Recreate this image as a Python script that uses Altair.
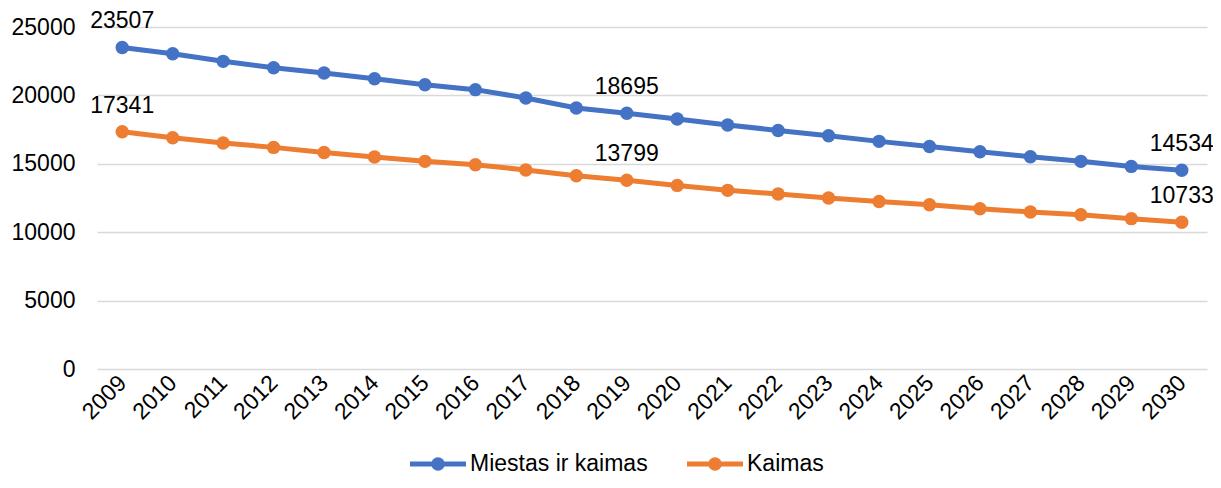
import altair as alt
import pandas as pd

years = [str(y) for y in range(2009, 2031)]
miestas_ir_kaimas = [23507, 23050, 22490, 22020, 21640, 21220, 20780, 20420, 19810, 19080, 18695,
                     18270, 17840, 17440, 17050, 16640, 16270, 15880, 15520, 15180, 14810, 14534]
kaimas = [17341, 16910, 16520, 16200, 15830, 15500, 15180, 14930, 14550, 14130, 13799,
          13420, 13060, 12790, 12500, 12250, 12010, 11720, 11480, 11280, 10990, 10733]
series_names = ["Miestas ir kaimas", "Kaimas"]
series_colors = ["#4472C4", "#ED7D31"]
label_years = ["2009", "2019", "2030"]

rows = []
for name, vals in zip(series_names, [miestas_ir_kaimas, kaimas]):
    for y, v in zip(years, vals):
        rows.append({"year": y, "value": v, "series": name,
                     "lbl": str(v) if y in label_years else ""})
df = pd.DataFrame(rows)

FONT = "Liberation Sans"
FS = 23

xenc = alt.X("year:N", sort=years, title=None,
             scale=alt.Scale(type="point", padding=0.5),
             axis=alt.Axis(labelAngle=-45, labelAlign="right", labelBaseline="middle",
                           labelPadding=10, ticks=False, domain=False, grid=False,
                           labelFont=FONT, labelFontSize=FS, labelColor="#000000"))
yenc = alt.Y("value:Q", title=None,
             scale=alt.Scale(domain=[0, 25000], nice=False),
             axis=alt.Axis(values=[0, 5000, 10000, 15000, 20000, 25000], format="d", ticks=False,
                           domain=False, labelPadding=22, labelFont=FONT, labelFontSize=FS,
                           labelColor="#000000", gridColor="#D9D9D9", gridWidth=1.5))

cscale = alt.Scale(domain=series_names, range=series_colors)

lines = alt.Chart(df).mark_line(strokeWidth=5).encode(
    x=xenc, y=yenc,
    color=alt.Color("series:N", scale=cscale, legend=None, sort=series_names),
    detail="series:N",
)

points = alt.Chart(df).mark_point(filled=True, size=180, opacity=1, strokeWidth=0).encode(
    x=xenc, y=yenc,
    color=alt.Color("series:N", scale=cscale, legend=None, sort=series_names),
)

labels = alt.Chart(df).transform_filter(alt.datum.lbl != "").mark_text(
    dy=-26, font=FONT, fontSize=FS, color="#000000").encode(
    x=xenc, y=yenc, text="lbl:N")

# legend key (bottom, centred): line with dot + label for each series
one = pd.DataFrame({"k": [0]})
key_x0 = [313, 590]
key_y = 437
legend_layers = []
for name, col, x0 in zip(series_names, series_colors, key_x0):
    legend_layers.append(alt.Chart(one).mark_rule(color=col, strokeWidth=5).encode(
        x=alt.value(x0), x2=alt.value(x0 + 56), y=alt.value(key_y)))
    legend_layers.append(alt.Chart(one).mark_point(filled=True, size=180, opacity=1,
                                                   strokeWidth=0, color=col).encode(
        x=alt.value(x0 + 28), y=alt.value(key_y)))
    legend_layers.append(alt.Chart(one).mark_text(text=name, align="left", baseline="middle",
                                                  font=FONT, fontSize=FS, color="#000000").encode(
        x=alt.value(x0 + 60), y=alt.value(key_y)))

chart = alt.layer(lines, points, labels, *legend_layers).properties(
    width=1110, height=342,
    autosize=alt.AutoSizeParams(type="none"),
    padding={"left": 89, "top": 19, "right": 6, "bottom": 111},
).configure_view(stroke=None)

chart.save("out.html", embed_options={"renderer": "svg", "actions": False})
